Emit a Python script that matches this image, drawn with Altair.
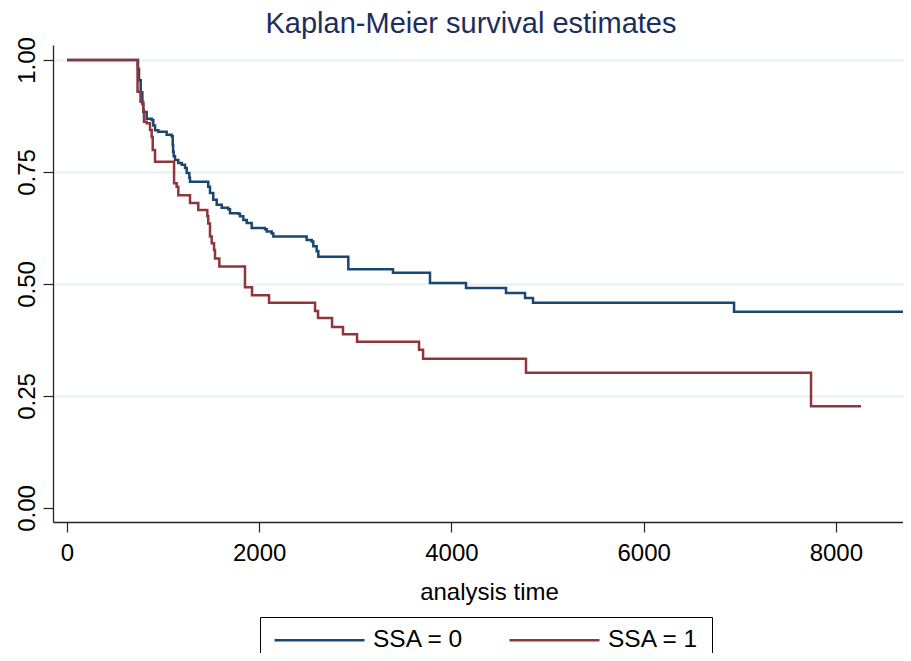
import altair as alt
import pandas as pd

# SSA = 0 (step times and survival after each step)
ssa0_time = [0, 739, 749, 767, 784, 794, 829, 881, 898, 916, 950, 1037, 1089, 1100, 1104, 1110,
             1124, 1158, 1194, 1228, 1246, 1273, 1280, 1470, 1488, 1522, 1558, 1610, 1678, 1696,
             1783, 1800, 1835, 1870, 1922, 2060, 2078, 2130, 2147, 2494, 2546, 2563, 2598, 2615,
             2927, 3392, 3777, 4152, 4568, 4766, 4849, 6941, 8751]
ssa0_surv = [1.0, 0.980, 0.955, 0.928, 0.902, 0.884, 0.869, 0.866, 0.854, 0.843, 0.840, 0.833,
             0.830, 0.810, 0.795, 0.785, 0.777, 0.770, 0.766, 0.759, 0.748, 0.737, 0.728, 0.717,
             0.703, 0.688, 0.677, 0.670, 0.667, 0.658, 0.657, 0.651, 0.643, 0.636, 0.625, 0.622,
             0.617, 0.613, 0.606, 0.598, 0.595, 0.584, 0.573, 0.561, 0.533, 0.525, 0.502, 0.491,
             0.480, 0.469, 0.458, 0.438, 0.438]

# SSA = 1
ssa1_time = [0, 734, 765, 793, 801, 829, 864, 881, 892, 916, 1114, 1141, 1158, 1280, 1366, 1460,
             1470, 1488, 1506, 1530, 1540, 1585, 1852, 1925, 2102, 2581, 2612, 2758, 2872, 3018,
             3663, 3705, 4776, 7742, 8262]
ssa1_surv = [1.0, 0.929, 0.907, 0.888, 0.862, 0.859, 0.844, 0.828, 0.799, 0.773, 0.725, 0.717,
             0.698, 0.681, 0.665, 0.652, 0.635, 0.606, 0.591, 0.576, 0.557, 0.539, 0.493, 0.475,
             0.458, 0.440, 0.424, 0.404, 0.388, 0.371, 0.353, 0.333, 0.302, 0.227, 0.227]

groups = ["SSA = 0", "SSA = 1"]
colors = ["#1a476f", "#90353b"]
x_ticks = [0, 2000, 4000, 6000, 8000]
y_ticks = [0, 0.25, 0.5, 0.75, 1.0]

df = pd.concat([
    pd.DataFrame({"time": ssa0_time, "surv": ssa0_surv, "group": groups[0]}),
    pd.DataFrame({"time": ssa1_time, "surv": ssa1_surv, "group": groups[1]}),
])

FONT = "Liberation Sans"

chart = alt.Chart(df).mark_line(interpolate="step-after", strokeWidth=2.5, clip=True).encode(
    x=alt.X("time:Q",
            scale=alt.Scale(domain=[-145.7, 8699], nice=False, zero=False),
            axis=alt.Axis(values=x_ticks, format="d", title="analysis time", grid=False,
                          tickSize=10, labelPadding=9, labelFontSize=24, labelFont=FONT,
                          labelColor="black", titleFont=FONT, titleFontSize=24,
                          titleFontWeight="normal", titleColor="black", titlePadding=15,
                          titleX=436,
                          domainColor="#222222", domainWidth=1.3, tickColor="#222222",
                          tickWidth=1.2, labelFlush=False)),
    y=alt.Y("surv:Q",
            scale=alt.Scale(domain=[-0.03125, 1.0335], nice=False, zero=False),
            axis=alt.Axis(values=y_ticks, format=".2f", title=None, grid=True,
                          gridColor={"condition": {"test": "datum.value == 0", "value": "transparent"},
                                     "value": "#e7eff2"},
                          gridWidth=2, labelAngle=270, labelAlign="center",
                          labelBaseline="bottom", tickSize=10, labelPadding=4,
                          labelFontSize=24, labelFont=FONT, labelColor="black",
                          domainColor="#222222", domainWidth=1.3, tickColor="#222222",
                          tickWidth=1.2, labelFlush=False)),
    color=alt.Color("group:N",
                    scale=alt.Scale(domain=groups, range=colors),
                    legend=alt.Legend(orient="none", legendX=207, legendY=572,
                                      direction="horizontal", title=None,
                                      strokeColor="black", padding=13,
                                      symbolType="stroke", symbolSize=8100,
                                      symbolStrokeWidth=2.5, labelFontSize=24.5,
                                      labelFont=FONT, labelColor="black",
                                      columnPadding=44, labelOffset=7, clipHeight=20)),
).properties(
    width=850,
    height=477,
    title=alt.TitleParams("Kaplan-Meier survival estimates", fontSize=29, font=FONT,
                          fontWeight="normal", color="#1c2e5b", anchor="middle", dx=-7,
                          dy=16, offset=14),
    autosize=alt.AutoSizeParams(type="none"),
    padding={"left": 45, "top": 37, "right": 0, "bottom": 131},
).configure_view(stroke=None)

chart.save("out.html", embed_options={"renderer": "svg", "actions": False})
